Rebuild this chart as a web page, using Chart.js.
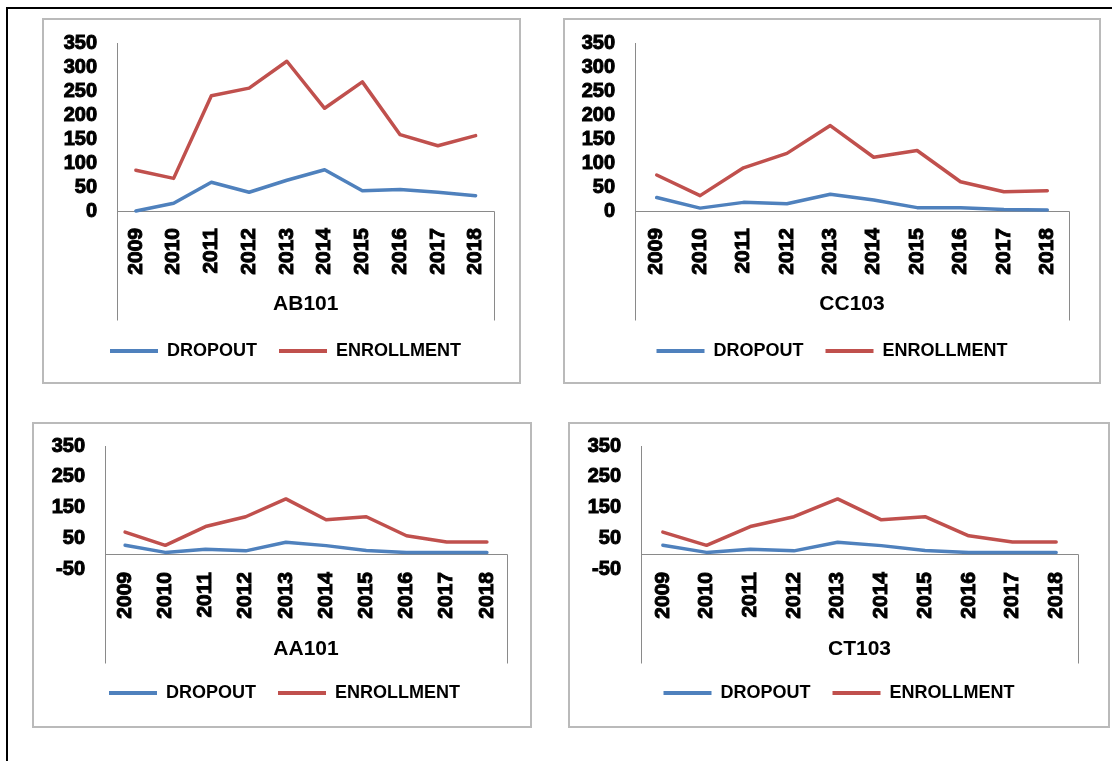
<!DOCTYPE html>
<html>
<head>
<meta charset="utf-8">
<title>Dropout and enrollment by course</title>
<script src="https://cdn.jsdelivr.net/npm/chart.js@4.4.1/dist/chart.umd.min.js"></script>
<style>
  html, body { margin: 0; padding: 0; background: #fff; }
  body { width: 1112px; height: 761px; position: relative; overflow: hidden; }
  /* black page rule on the left and top */
  .frame { position: absolute; left: 6px; top: 7px; right: -10px; bottom: -10px;
           border-left: 2px solid #000; border-top: 2px solid #000; }
  .panel { position: absolute; box-sizing: border-box; border: 2px solid #bababa; background: #fff; }
  .panel canvas { display: block; }
</style>
</head>
<body>
<div class="frame"></div>
<div class="panel" style="left:42px;top:18px;width:479px;height:366px"><canvas id="c-ab101" width="475" height="362"></canvas></div>
<div class="panel" style="left:563px;top:18px;width:538px;height:366px"><canvas id="c-cc103" width="534" height="362"></canvas></div>
<div class="panel" style="left:32px;top:422px;width:500px;height:306px"><canvas id="c-aa101" width="496" height="302"></canvas></div>
<div class="panel" style="left:568px;top:422px;width:542px;height:306px"><canvas id="c-ct103" width="538" height="302"></canvas></div>

<script>
// Years on the category axis
const years = ["2009", "2010", "2011", "2012", "2013", "2014", "2015", "2016", "2017", "2018"];

// Series per course
const ab101Dropout = [0, 16, 60, 39, 64, 86, 42, 45, 39, 32];
const ab101Enrollment = [85, 68, 240, 256, 312, 214, 269, 159, 136, 157];

const cc103Dropout = [28, 6, 18, 15, 35, 23, 7, 7, 3, 2];
const cc103Enrollment = [75, 32, 90, 120, 178, 112, 126, 61, 40, 42];

const aa101Dropout = [27, 4, 14, 9, 37, 26, 10, 4, 4, 4];
const aa101Enrollment = [70, 27, 88, 120, 178, 110, 120, 58, 38, 38];

const ct103Dropout = [27, 4, 14, 9, 37, 26, 10, 4, 4, 4];
const ct103Enrollment = [70, 27, 88, 120, 178, 110, 120, 58, 38, 38];

// Value axis ticks
const ticksBy50 = [0, 50, 100, 150, 200, 250, 300, 350];
const ticksBy100 = [-50, 50, 150, 250, 350];

const BLUE = "#4f81bd";
const RED = "#c0504d";
const AXIS = "#8a8a8a";

Chart.defaults.font.family = '"Liberation Sans", Arial, sans-serif';
Chart.defaults.color = "#000";

// Zero line plus the side lines of the two-level category label block under it
const categoryBox = {
  id: "categoryBox",
  beforeDatasetsDraw(chart, args, opts) {
    const { ctx, chartArea, scales } = chart;
    const zero = Math.round(scales.y.getPixelForValue(0)) + 0.5;
    const left = Math.round(chartArea.left) + 0.5;
    const right = Math.round(chartArea.right) + 0.5;
    ctx.save();
    ctx.strokeStyle = AXIS;
    ctx.lineWidth = 1;
    ctx.beginPath();
    ctx.moveTo(left, zero);
    ctx.lineTo(right, zero);
    ctx.moveTo(left, zero);
    ctx.lineTo(left, zero + opts.depth);
    ctx.moveTo(right, zero);
    ctx.lineTo(right, zero + opts.depth);
    ctx.stroke();
    ctx.restore();
  },
};

function drawCourse(canvasId, course, dropout, enrollment, yTicks, geo) {
  const ctx = document.getElementById(canvasId);
  return new Chart(ctx, {
    type: "line",
    data: {
      labels: years,
      datasets: [
        { label: "DROPOUT", data: dropout, borderColor: BLUE, backgroundColor: BLUE },
        { label: "ENROLLMENT", data: enrollment, borderColor: RED, backgroundColor: RED },
      ],
    },
    plugins: [categoryBox],
    options: {
      responsive: false,
      animation: false,
      events: [],
      layout: { padding: { left: geo.padLeft, right: 0, top: geo.padTop, bottom: geo.padBottom } },
      elements: {
        line: { borderWidth: 3.5, tension: 0, borderJoinStyle: "round", borderCapStyle: "round", fill: false },
        point: { radius: 0 },
      },
      datasets: { line: { clip: false } },
      scales: {
        x: {
          type: "category",
          offset: true,
          grid: { display: false, drawTicks: false },
          border: { display: false },
          ticks: {
            autoSkip: false,
            minRotation: 90,
            maxRotation: 90,
            padding: geo.labelPad,
            font: { size: 21, weight: "bold" },
            textStrokeColor: "#000",
            textStrokeWidth: 1,
          },
          title: {
            display: true,
            text: course,
            font: { size: 21, weight: "bold", lineHeight: 1 },
            padding: { top: 0, bottom: geo.titlePad },
          },
          afterFit(scale) { scale.height = geo.xHeight; },
        },
        y: {
          min: yTicks[0],
          max: yTicks[yTicks.length - 1],
          afterBuildTicks(scale) { scale.ticks = yTicks.map((v) => ({ value: v })); },
          grid: { display: false, drawTicks: false },
          border: { display: true, color: AXIS, width: 1 },
          ticks: {
            autoSkip: false,
            padding: 20,
            // small line height so the top label does not push the plot down
            font: { size: 20, weight: "bold", lineHeight: 0.2 },
            textStrokeColor: "#000",
            textStrokeWidth: 1,
          },
          afterFit(scale) { scale.width = geo.yWidth; },
        },
        // empty right-hand axis: keeps white space right of the plot
        // while the legend stays centred on the whole panel
        gutter: {
          type: "linear",
          position: "right",
          display: true,
          grid: { display: false, drawTicks: false },
          border: { display: false },
          ticks: { display: false },
          afterFit(scale) { scale.width = geo.gutter; },
        },
      },
      plugins: {
        categoryBox: { depth: 109 },
        tooltip: { enabled: false },
        legend: {
          position: "bottom",
          labels: {
            boxWidth: 48,
            boxHeight: 4,
            padding: 22,
            font: { size: 18, weight: "bold" },
            generateLabels(chart) {
              return Chart.defaults.plugins.legend.labels.generateLabels(chart)
                .map((item) => ({ ...item, lineWidth: 0 }));
            },
          },
        },
      },
    },
  });
}

drawCourse("c-ab101", "AB101", ab101Dropout, ab101Enrollment, ticksBy50, {
  padLeft: 8, padTop: 23, padBottom: 12, yWidth: 65, gutter: 24,
  xHeight: 109, labelPad: 17, titlePad: 5.5,
});
drawCourse("c-cc103", "CC103", cc103Dropout, cc103Enrollment, ticksBy50, {
  padLeft: 0, padTop: 23, padBottom: 12, yWidth: 70, gutter: 30,
  xHeight: 109, labelPad: 17, titlePad: 5.5,
});
drawCourse("c-aa101", "AA101", aa101Dropout, aa101Enrollment, ticksBy100, {
  padLeft: 5, padTop: 22, padBottom: 14, yWidth: 66, gutter: 23,
  xHeight: 93, labelPad: 3, titlePad: 2.5,
});
drawCourse("c-ct103", "CT103", ct103Dropout, ct103Enrollment, ticksBy100, {
  padLeft: 0, padTop: 22, padBottom: 14, yWidth: 71, gutter: 30,
  xHeight: 93, labelPad: 3, titlePad: 2.5,
});
</script>
</body>
</html>
